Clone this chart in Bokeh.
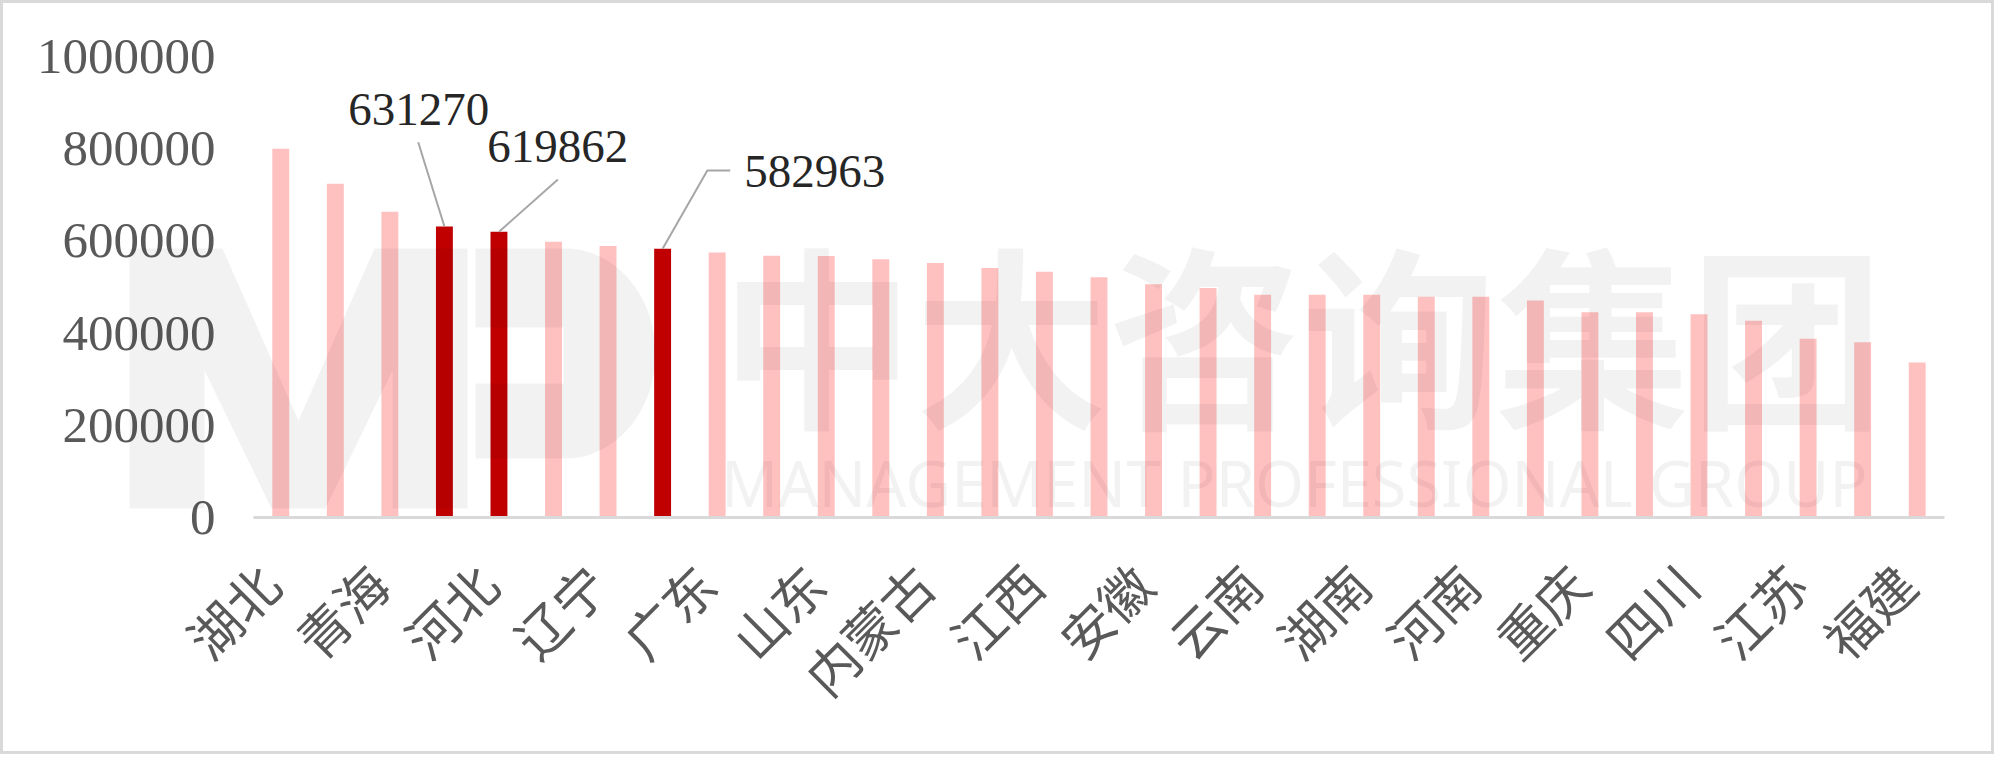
from math import pi

import numpy as np
from bokeh.plotting import figure
from bokeh.models import ColumnDataSource, Range1d, Label
from bokeh.embed import file_html
from bokeh.resources import INLINE

# Provinces in ranking order; only every other one is labelled on the axis
provinces = ["湖北", "西藏", "青海", "山西", "河北", "天津", "辽宁", "陕西", "广东", "吉林",
             "山东", "新疆", "内蒙古", "宁夏", "江西", "甘肃", "安徽", "黑龙江", "云南", "贵州",
             "湖南", "广西", "河南", "海南", "重庆", "浙江", "四川", "上海", "江苏", "北京", "福建"]
values = [800000, 724000, 663000, 631270, 619862, 598000, 589000, 582963, 575000, 568000,
          567000, 560000, 552000, 541000, 533000, 521000, 506000, 498000, 483000, 483000,
          483000, 479000, 479000, 471000, 445000, 445000, 441000, 427000, 388000, 380000, 336000]
highlighted = ["山西", "河北", "陕西"]

y_ticks = [0, 200000, 400000, 600000, 800000, 1000000]

PINK = "#FFC0C0"
DARK = "#C00000"
TEXT = "#595959"

idx = list(range(len(provinces)))
colors = [DARK if name in highlighted else PINK for name in provinces]
source = ColumnDataSource(dict(x=idx, top=values, name=provinces, color=colors))

# The frame fills the whole canvas so the watermark can reach past the value labels;
# ticks and labels are drawn as text glyphs.
p = figure(width=1994, height=754, output_backend="svg", toolbar_location=None,
           x_range=Range1d(-5.083, 31.472), y_range=Range1d(-520600, 1115000),
           min_border=0)
p.styles = {"border": "3px solid #D9D9D9"}
p.axis.visible = False
p.outline_line_color = None
p.background_fill_color = "white"
p.border_fill_color = "white"
p.xgrid.visible = False
p.ygrid.visible = False

p.vbar(x="x", top="top", width=0.31, bottom=0, source=source,
       fill_color="color", line_color=None)

# category baseline
p.line([-0.5, len(provinces) - 0.5], [0, 0], line_color="#D9D9D9", line_width=3)

# value ticks
p.text(x=[-0.5] * len(y_ticks), y=y_ticks, text=[str(t) for t in y_ticks],
       x_offset=-38, text_align="right", text_baseline="middle",
       text_font={"value": "Liberation Serif"}, text_font_size="51px", text_color=TEXT)

# every other province name, rotated 45 degrees below the baseline
shown = idx[::2]
p.text(x=shown, y=[0] * len(shown), text=[provinces[i] for i in shown],
       angle=pi / 4, x_offset=-12, y_offset=56, text_align="right", text_baseline="middle",
       text_font={"value": "Noto Sans CJK SC"}, text_font_size="52px", text_color=TEXT)

# callouts for the highlighted provinces: (label x, label y, leader elbow points)
callouts = {
    "山西": dict(lx=2.53, ly=885000, path=[(2.52, 814000)]),
    "河北": dict(lx=5.08, ly=805000, path=[(5.08, 733000)]),
    "陕西": dict(lx=9.79, ly=750500, path=[(7.82, 752700), (8.24, 752700)]),
}
for name, c in callouts.items():
    i = provinces.index(name)
    xs = [i] + [pt[0] for pt in c["path"]]
    ys = [values[i]] + [pt[1] for pt in c["path"]]
    p.line(xs, ys, line_color="#A6A6A6", line_width=2)
    p.add_layout(Label(x=c["lx"], y=c["ly"], text=str(values[i]), text_align="center",
                       text_baseline="middle", text_font="Liberation Serif",
                       text_font_size="47px", text_color="#262626"))


# faint company watermark over the chart
def to_data(px, py):
    """Page pixels -> data coordinates of this frame."""
    return (px - 253) / 54.55 - 0.5, (517 - py) / 461 * 1e6


m_outline = [(129, 508), (129, 248), (222, 248), (298, 420), (374, 248), (467, 248),
             (467, 508), (392, 508), (392, 370), (325, 508), (271, 508), (204, 370), (204, 508)]
t = np.linspace(-pi / 2, pi / 2, 40)
p_outline = ([(475, 327), (475, 248)]
             + [(565 + 90 * np.cos(a), 353 + 105 * np.sin(a)) for a in t]
             + [(475, 458), (475, 383), (563, 383), (563, 327)])
logo_xs, logo_ys = [], []
for outline in (m_outline, p_outline):
    pts = [to_data(px, py) for px, py in outline]
    logo_xs.append([q[0] for q in pts])
    logo_ys.append([q[1] for q in pts])
p.patches(logo_xs, logo_ys, fill_color="black", fill_alpha=0.05, line_color=None)

p.add_layout(Label(x=18.72, y=408000, text="中大咨询集团", text_align="center",
                   text_baseline="middle", text_font="Noto Sans CJK SC", text_font_style="bold",
                   text_font_size="194px", text_color="black", text_alpha=0.05))
p.add_layout(Label(x=18.58, y=75000, text="MANAGEMENT PROFESSIONAL GROUP", text_align="center",
                   text_baseline="middle", text_font="Noto Sans", text_font_size="63px",
                   text_color="black", text_alpha=0.05))

open("out.html", "w").write(file_html(p, INLINE))
